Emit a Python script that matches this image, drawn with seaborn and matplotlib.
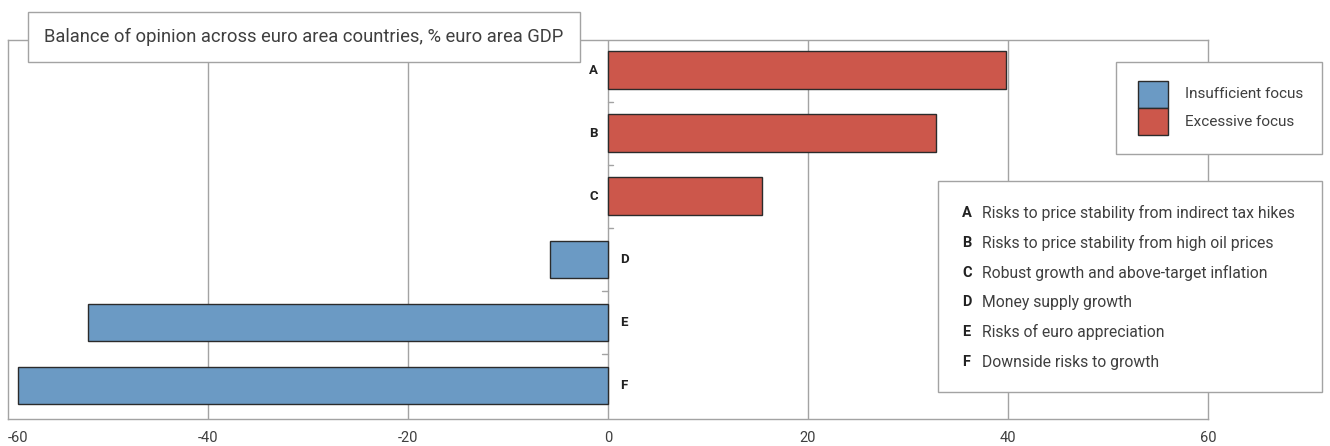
import matplotlib
matplotlib.use("Agg")
import matplotlib.pyplot as plt
from matplotlib.patches import Rectangle
import seaborn as sns
import pandas as pd

# Chart data
codes = ["A", "B", "C", "D", "E", "F"]
balance = [39.8, 32.8, 15.4, -5.8, -52.0, -59.0]
focus = ["Excessive focus", "Excessive focus", "Excessive focus",
         "Insufficient focus", "Insufficient focus", "Insufficient focus"]
focus_levels = ["Insufficient focus", "Excessive focus"]
descriptions = [
    "Risks to price stability from indirect tax hikes",
    "Risks to price stability from high oil prices",
    "Robust growth and above-target inflation",
    "Money supply growth",
    "Risks of euro appreciation",
    "Downside risks to growth",
]
x_ticks = [-60, -40, -20, 0, 20, 40, 60]
title = "Balance of opinion across euro area countries, % euro area GDP"

BLUE = "#6b9ac4"
RED = "#cc574b"
EDGE = "#2b2b2b"
GRID = "#a3a3a3"
TXT = "#3f3f3f"
palette = {"Insufficient focus": BLUE, "Excessive focus": RED}

sns.set_theme(style="white")
plt.rcParams["font.family"] = ["Roboto", "DejaVu Sans"]

df = pd.DataFrame({"code": codes, "balance": balance, "focus": focus})

W, H = 1330, 446
fig = plt.figure(figsize=(W / 100, H / 100), dpi=100)
ax = fig.add_axes([8 / W, (H - 419) / H, 1200 / W, 379 / H])

sns.barplot(data=df, x="balance", y="code", hue="focus", orient="h",
            dodge=False, width=0.6, order=codes, hue_order=focus_levels,
            palette=palette, saturation=1, legend=False,
            edgecolor=EDGE, linewidth=1.0, ax=ax, zorder=3)

ax.set_xlim(-60, 60)
ax.set_ylim(5.53, -0.48)
ax.set_xticks(x_ticks)
ax.set_xticklabels([str(v) for v in x_ticks], color=TXT, fontsize=10.5)
ax.get_xticklabels()[0].set_horizontalalignment("left")
ax.tick_params(axis="x", length=0, pad=9)
ax.set_yticks([])
ax.set_xlabel("")
ax.set_ylabel("")

for s in ax.spines.values():
    s.set_color(GRID)
    s.set_linewidth(1.0)

# Vertical grid lines and the zero axis
for v in x_ticks[1:-1]:
    ax.axvline(v, color=GRID, lw=1.0, zorder=1)

# Small category ticks on the zero axis, between bars
for i in range(len(codes) - 1):
    side = 0.55 if balance[i] > 0 else -0.55
    ax.plot([0, side], [i + 0.5, i + 0.5], color=GRID, lw=1.0, zorder=2)

# Category letters next to the zero axis
for i, (c, v) in enumerate(zip(codes, balance)):
    if v > 0:
        ax.text(-1.0, i, c, ha="right", va="center", fontsize=9.5,
                fontweight="bold", color="#222222", zorder=4)
    else:
        ax.text(1.2, i, c, ha="left", va="center", fontsize=9.5,
                fontweight="bold", color="#222222", zorder=4)


def fx(px):
    return px / W


def fy(py):
    return (H - py) / H


def box(x0, y0, x1, y1, face="white", edge=GRID, z=5):
    fig.patches.append(Rectangle((fx(x0), fy(y1)), fx(x1) - fx(x0), fy(y0) - fy(y1),
                                 transform=fig.transFigure, facecolor=face,
                                 edgecolor=edge, lw=1.0, zorder=z))


# Title box
box(28, 12, 580, 62)
fig.text(fx(44), fy(37), title, ha="left", va="center", fontsize=13.2,
         color=TXT, zorder=6)

# Series key
box(1116, 62, 1322, 154)
for i, lvl in enumerate(focus_levels):
    y0 = 81 + 27 * i
    box(1138, y0, 1168, y0 + 27, face=palette[lvl], edge=EDGE, z=6)
    fig.text(fx(1185), fy(y0 + 13.5), lvl, ha="left", va="center",
             fontsize=11, color=TXT, zorder=7)

# Description box
box(938, 181, 1322, 392)
for i, (c, d) in enumerate(zip(codes, descriptions)):
    yy = fy(213 + 29.8 * i)
    fig.text(fx(962), yy, c, ha="left", va="center", fontsize=10.5,
             fontweight="bold", color="#222222", zorder=6)
    fig.text(fx(982), yy, d, ha="left", va="center", fontsize=11.3,
             color=TXT, zorder=6)

fig.savefig("out.png", dpi=100)
